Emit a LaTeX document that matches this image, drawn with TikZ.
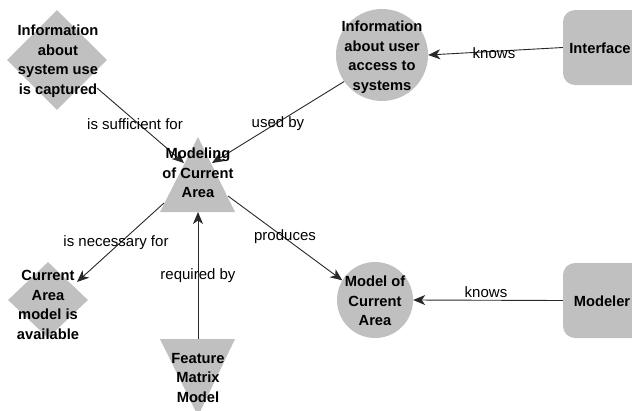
\documentclass[tikz,border=0pt]{standalone}
\usepackage{fontspec}
\setmainfont{Liberation Sans}
\usetikzlibrary{arrows.meta,shapes.geometric}
\definecolor{shapegray}{RGB}{192,192,192}
\definecolor{linegray}{RGB}{40,40,40}
\begin{document}
\begin{tikzpicture}[x=1pt,y=-1pt,
  conn/.style={draw=linegray, line width=0.9pt, -{Stealth[length=12pt,width=10pt,inset=3.5pt]}},
  lbl/.style={font=\fontsize{15}{18}\selectfont, inner sep=0pt},
  txt/.style={font=\bfseries\fontsize{14.7}{19.5}\selectfont, align=center, inner sep=0pt},
  sh/.style={fill=shapegray, draw=none, inner sep=0pt},
  rbox/.style={sh, rounded corners=12pt, minimum width=80pt, minimum height=75pt}]
\useasboundingbox (0,0) rectangle (632,410);
\clip (0,0) rectangle (632,410);
\fill[white] (0,0) rectangle (632,410);
% shapes
\node[sh, diamond, minimum width=100pt, minimum height=100pt] (Ash) at (57,60) {};
\node[sh, circle, minimum size=92pt] (Bsh) at (382,55) {};
\node[rbox] (Csh) at (603,47.5) {};
\path[sh] (198,137) coordinate (Tapex) -- (235,212) -- (160,212) -- cycle;
\coordinate (Tbase) at (198,212);
\node[sh, diamond, minimum width=80pt, minimum height=76pt] (Dsh) at (48,300) {};
\path[sh] (160,339) -- (235,339) -- (198,416) -- cycle;
\coordinate (Ftop) at (198,339);
\node[sh, circle, minimum size=76pt] (Msh) at (375,300) {};
\node[rbox] (Rsh) at (603,300.5) {};
% connector end points
\coordinate (a1) at (97,88);
\coordinate (t1) at (184,163);
\coordinate (t2) at (212,163);
\coordinate (t3) at (164,203);
\coordinate (d1) at (77,282);
\coordinate (t5) at (228,196);
% connectors
\draw[conn] (a1) -- (t1);
\draw[conn] (Bsh.215) -- (t2);
\draw[conn] (Csh.west) -- (Bsh.east);
\draw[conn] (t3) -- (d1);
\draw[conn] (Ftop) -- (Tbase);
\draw[conn] (t5) -- (Msh.149);
\draw[conn] (Rsh.west) -- (Msh.east);
% connector labels
\node[lbl] (l1) at (135,124) {is sufficient for};
\node[lbl] (l2) at (278,124) {used by};
\node[lbl] (l3) at (494,53) {knows};
\node[lbl] (l4) at (116,243) {is necessary for};
\node[lbl] (l5) at (198,276) {required by};
\node[lbl] (l6) at (285,237) {produces};
\node[lbl] (l7) at (486,292) {knows};
% node texts
\node[txt] (A) at (58,61) {Information\\about\\system use\\is captured};
\node[txt] (B) at (382,57) {Information\\about user\\access to\\systems};
\node[txt] (C) at (600,48) {Interface};
\node[txt] (T) at (198,173) {Modeling\\of Current\\Area};
\node[txt] (D) at (48,305) {Current\\Area\\model is\\available};
\node[txt] (F) at (198,378) {Feature\\Matrix\\Model};
\node[txt] (M) at (375,301) {Model of\\Current\\Area};
\node[txt] (R) at (602,301) {Modeler};
\end{tikzpicture}
\end{document}
